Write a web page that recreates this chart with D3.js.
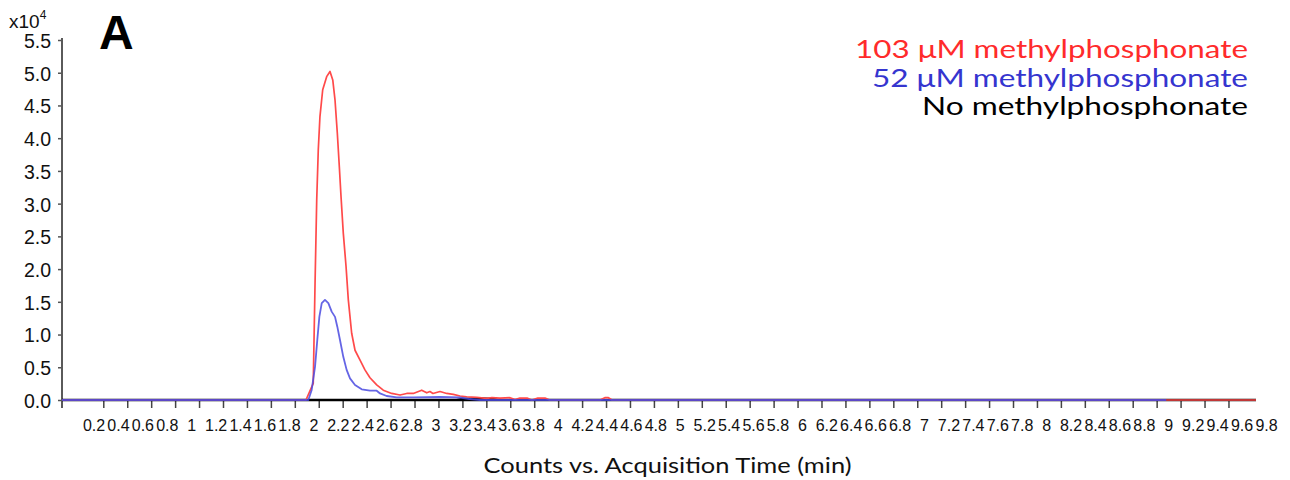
<!DOCTYPE html>
<html><head><meta charset="utf-8">
<script src="https://cdn.jsdelivr.net/npm/d3@7"></script>
<style>html,body{margin:0;padding:0;background:#fff;} svg{display:block;}</style>
</head><body><svg id="chart" width="1290" height="480"></svg>
<script>
// ---- data (counts x10^4 vs acquisition time in min) ----
const seriesNames = ["103 μM methylphosphonate", "52 μM methylphosphonate", "No methylphosphonate"];
const seriesColors = ["#ff2b2b", "#3535cf", "#000000"];
const lineColors = ["#ff4a4a", "#4a4ae0", "#000000"];

const noMP = [[-0.145,0],[3.15,0],[3.2,0.02],[3.35,0.025],[3.45,0.02],[3.5,0],[9.83,0]];

const mp103 = [[-0.145,0],[1.893,0],[1.954,0.255],[1.969,1.78],[1.983,3.06],[1.996,3.82],[2.010,4.33],
  [2.033,4.74],[2.066,4.94],[2.094,5.02],[2.117,4.89],[2.136,4.58],[2.155,4.08],[2.172,3.56],
  [2.186,3.11],[2.205,2.55],[2.228,2.04],[2.247,1.53],[2.275,1.02],[2.303,0.76],[2.345,0.61],
  [2.386,0.46],[2.428,0.34],[2.484,0.23],[2.539,0.15],[2.609,0.10],[2.679,0.076],[2.735,0.10],
  [2.790,0.10],[2.860,0.15],[2.902,0.11],[2.929,0.13],[2.954,0.10],[3.013,0.13],[3.069,0.10],
  [3.124,0.087],[3.180,0.061],[3.236,0.05],[3.319,0.04],[3.403,0.026],[3.447,0.035],[3.514,0.03],
  [3.598,0.035],[3.64,0.008],[3.68,0.03],[3.74,0.03],[3.78,0],[3.83,0.03],[3.89,0.03],[3.93,0],
  [4.35,0],[4.39,0.035],[4.42,0.035],[4.45,0],[9.83,0]];

const mp52 = [[-0.145,0],[1.913,0],[1.941,0.153],[1.969,0.51],[1.988,0.92],[2.005,1.27],[2.025,1.48],
  [2.052,1.53],[2.080,1.48],[2.108,1.35],[2.136,1.27],[2.155,1.12],[2.177,0.92],[2.205,0.66],
  [2.233,0.46],[2.261,0.33],[2.303,0.23],[2.359,0.163],[2.428,0.142],[2.484,0.142],[2.512,0.10],
  [2.567,0.061],[2.651,0.041],[2.790,0.041],[3.013,0.046],[3.18,0.038],[3.26,0.015],[3.347,0],[9.08,0]];

const yTicks = [0,0.5,1.0,1.5,2.0,2.5,3.0,3.5,4.0,4.5,5.0,5.5];
const xTickLabels = ["0.2","0.4","0.6","0.8","1","1.2","1.4","1.6","1.8","2","2.2","2.4","2.6","2.8","3",
  "3.2","3.4","3.6","3.8","4","4.2","4.4","4.6","4.8","5","5.2","5.4","5.6","5.8","6","6.2","6.4","6.6",
  "6.8","7","7.2","7.4","7.6","7.8","8","8.2","8.4","8.6","8.8","9","9.2","9.4","9.6","9.8"];
const lastTickMark = 9.6;
const xTitle = "Counts vs. Acquisition Time (min)";
const panelLabel = "A";

// ---- layout ----
const svg = d3.select("#chart");
const mLeft = 62, mRight = 1256, mTop = 40, mBottom = 400;
const x = d3.scaleLinear().domain([-0.145, 9.83]).range([mLeft, mRight]);
const xl = d3.scaleLinear().domain([0.2, 9.8]).range([93.5, 1266]);
const y = d3.scaleLinear().domain([0, 5.5]).range([mBottom, mTop]);

// y axis
const ya = svg.append("g").attr("transform", `translate(${mLeft},0)`)
  .call(d3.axisLeft(y).tickValues(yTicks).tickSize(4).tickSizeOuter(0).tickPadding(7).tickFormat(d3.format(".1f")));
ya.select(".domain").remove();
ya.selectAll(".tick line").attr("stroke", "#555").attr("stroke-width", 1.5);
ya.selectAll("text").attr("font-family", "Liberation Sans, Arial, sans-serif").attr("font-size", 19.5)
  .attr("fill", "#111").attr("dy", "0.38em");
svg.append("line").attr("x1", mLeft).attr("x2", mLeft).attr("y1", mTop - 2).attr("y2", mBottom + 8)
  .attr("stroke", "#5a5a5a").attr("stroke-width", 2);

// x axis ticks
const marks = xTickLabels.map(Number).filter(v => v <= lastTickMark);
const xa = svg.append("g").attr("transform", `translate(0,${mBottom})`)
  .call(d3.axisBottom(x).tickValues(marks).tickSize(8).tickSizeOuter(0).tickFormat(""));
xa.select(".domain").remove();
xa.selectAll(".tick line").attr("stroke", "#444").attr("stroke-width", 1.5);

// x axis labels
const xla = svg.append("g").attr("transform", `translate(0,${mBottom})`)
  .call(d3.axisBottom(xl).tickValues(xTickLabels.map(Number)).tickSize(0).tickPadding(20)
    .tickFormat((d, i) => xTickLabels[i]));
xla.select(".domain").remove();
xla.selectAll("text").attr("font-family", "Liberation Sans, Arial, sans-serif").attr("font-size", 16).attr("fill", "#111");

// baseline
svg.append("line").attr("x1", mLeft).attr("x2", mRight).attr("y1", mBottom).attr("y2", mBottom)
  .attr("stroke", "#000").attr("stroke-width", 2.5);

// series
const line = d3.line().x(d => x(d[0])).y(d => y(d[1]));
const drawOrder = [[noMP, lineColors[2], 2, 1], [mp103, lineColors[0], 1.7, 1], [mp52, lineColors[1], 1.8, 0.85]];
drawOrder.forEach(([data, col, w, op]) => {
  svg.append("path").datum(data).attr("d", line).attr("fill", "none")
    .attr("stroke", col).attr("stroke-width", w).attr("stroke-opacity", op).attr("stroke-linejoin", "round");
});

// y-axis multiplier
const mult = svg.append("text").attr("x", 9).attr("y", 28)
  .attr("font-family", "Liberation Sans, Arial, sans-serif").attr("font-size", 19).attr("fill", "#111");
mult.append("tspan").text("x10");
mult.append("tspan").attr("dy", -9).attr("font-size", 12).text("4");

// panel label
svg.append("text").attr("x", 99).attr("y", 49).text(panelLabel)
  .attr("font-family", "Liberation Sans, Arial, sans-serif").attr("font-weight", "bold")
  .attr("font-size", 48).attr("fill", "#000");

// legend
const legendBase = [58, 87, 115];
const legendWidth = [393, 376, 326];
seriesNames.forEach((name, i) => {
  svg.append("text").attr("x", 1248).attr("y", legendBase[i]).attr("text-anchor", "end")
    .attr("font-family", "Lato, Open Sans, sans-serif").attr("font-size", 25)
    .attr("fill", seriesColors[i]).attr("textLength", legendWidth[i]).attr("lengthAdjust", "spacingAndGlyphs")
    .text(name);
});

// x title
svg.append("text").attr("x", 667.5).attr("y", 473).attr("text-anchor", "middle")
  .attr("font-family", "Lato, Open Sans, sans-serif").attr("font-size", 22).attr("fill", "#111")
  .attr("textLength", 368).attr("lengthAdjust", "spacingAndGlyphs").text(xTitle);
</script></body></html>
